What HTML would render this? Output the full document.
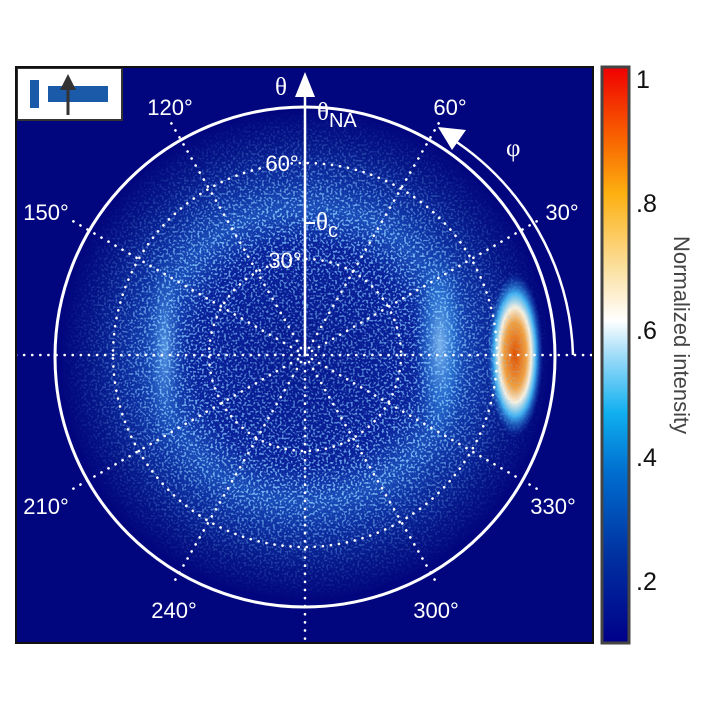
<!DOCTYPE html>
<html><head><meta charset="utf-8"><style>
body{margin:0;background:#fff;width:712px;height:712px;overflow:hidden}
svg{display:block;font-family:"Liberation Sans",sans-serif}
</style></head><body>
<svg width="712" height="712" viewBox="0 0 712 712">
<defs>
<clipPath id="fr"><rect x="16" y="67" width="577" height="576"/></clipPath>
<radialGradient id="disk" cx="305" cy="355" r="245" gradientUnits="userSpaceOnUse">
<stop offset="0" stop-color="#06188e"/>
<stop offset="0.45" stop-color="#08209a"/>
<stop offset="0.6" stop-color="#1a4cb8"/>
<stop offset="0.72" stop-color="#0c2ea0"/>
<stop offset="0.88" stop-color="#041486"/>
<stop offset="1" stop-color="#02067e"/>
</radialGradient>
<radialGradient id="spot" cx="0.5" cy="0.5" r="0.5">
<stop offset="0" stop-color="#e05000"/>
<stop offset="0.4" stop-color="#f0a040"/>
<stop offset="0.58" stop-color="#f8f0e0"/>
<stop offset="0.75" stop-color="#40b0f0"/>
<stop offset="1" stop-color="#1050c0" stop-opacity="0"/>
</radialGradient>
<radialGradient id="rr" cx="0.5" cy="0.5" r="0.5">
<stop offset="0" stop-color="#a0d8ff" stop-opacity="0.75"/>
<stop offset="0.5" stop-color="#40a0f0" stop-opacity="0.4"/>
<stop offset="1" stop-color="#1050c0" stop-opacity="0"/>
</radialGradient>
<radialGradient id="rl" cx="0.5" cy="0.5" r="0.5">
<stop offset="0" stop-color="#80c8ff" stop-opacity="0.6"/>
<stop offset="1" stop-color="#1050c0" stop-opacity="0"/>
</radialGradient>
<filter id="spk" x="0" y="0" width="100%" height="100%">
<feTurbulence type="fractalNoise" baseFrequency="0.45" numOctaves="1" seed="3"/>
<feColorMatrix type="matrix" values="0 0 0 0 0.25  0 0 0 0 0.6  0 0 0 0 1  0 0 0 7 -3.6"/>
</filter>
<mask id="dm"><circle cx="305" cy="355" r="245" fill="url(#dmg)"/></mask>
<radialGradient id="dmg" cx="305" cy="355" r="245" gradientUnits="userSpaceOnUse">
<stop offset="0" stop-color="#777"/><stop offset="0.6" stop-color="#fff"/><stop offset="0.82" stop-color="#555"/><stop offset="1" stop-color="#000"/>
</radialGradient>
<linearGradient id="cb" x1="0" y1="1" x2="0" y2="0">
<stop offset="0" stop-color="#00008a"/>
<stop offset="0.15" stop-color="#0030a0"/>
<stop offset="0.3" stop-color="#0070d0"/>
<stop offset="0.4" stop-color="#10b0f0"/>
<stop offset="0.5" stop-color="#a0dcf8"/>
<stop offset="0.56" stop-color="#ffffff"/>
<stop offset="0.65" stop-color="#fbe0a0"/>
<stop offset="0.78" stop-color="#fdb010"/>
<stop offset="0.88" stop-color="#f86000"/>
<stop offset="1" stop-color="#f00000"/>
</linearGradient>
</defs>
<g clip-path="url(#fr)">
<rect x="16" y="67" width="577" height="576" fill="#02067e"/>
<circle cx="305" cy="355" r="245" fill="url(#disk)"/>
<ellipse cx="165" cy="350" rx="20" ry="100" fill="url(#rl)"/>
<ellipse cx="440" cy="345" rx="28" ry="105" fill="url(#rr)"/>
<ellipse cx="515" cy="355" rx="28" ry="82" fill="url(#spot)"/>
<rect x="16" y="67" width="577" height="576" filter="url(#spk)" mask="url(#dm)" opacity="0.85"/>
<g fill="none" stroke="#fff" stroke-width="2.6" stroke-dasharray="0.1 8" stroke-linecap="round">
<circle cx="305" cy="355" r="96"/>
<circle cx="305" cy="355" r="192"/>
<line x1="16" y1="355" x2="593" y2="355"/>
<line x1="305" y1="355" x2="305" y2="643"/>
<line x1="305" y1="355" x2="440" y2="121"/>
<line x1="305" y1="355" x2="170" y2="121"/>
<line x1="305" y1="355" x2="539" y2="220"/>
<line x1="305" y1="355" x2="71" y2="220"/>
<line x1="305" y1="355" x2="539" y2="490"/>
<line x1="305" y1="355" x2="71" y2="490"/>
<line x1="305" y1="355" x2="436" y2="582"/>
<line x1="305" y1="355" x2="174" y2="582"/>
</g>
<circle cx="305" cy="357" r="250" fill="none" stroke="#fff" stroke-width="3"/>
<path d="M 449 137 A 268 268 0 0 1 573 355" fill="none" stroke="#fff" stroke-width="2.5"/>
<polygon points="438,127 466,130 452,150" fill="#fff"/>
<line x1="305" y1="355" x2="305" y2="90" stroke="#fff" stroke-width="2.5"/>
<polygon points="295,97 315,97 305,72" fill="#fff"/>
<line x1="305" y1="223" x2="315" y2="223" stroke="#fff" stroke-width="2"/>
<g fill="#fff" font-size="22">
<text x="170" y="115" text-anchor="middle">120°</text>
<text x="46" y="220" text-anchor="middle">150°</text>
<text x="450" y="115" text-anchor="middle">60°</text>
<text x="562" y="220" text-anchor="middle">30°</text>
<text x="46" y="514" text-anchor="middle">210°</text>
<text x="553" y="514" text-anchor="middle">330°</text>
<text x="174" y="618" text-anchor="middle">240°</text>
<text x="436" y="618" text-anchor="middle">300°</text>
<text x="282" y="171" text-anchor="middle">60°</text>
<text x="285" y="268" text-anchor="middle">30°</text>
<text x="275" y="95" font-family="Liberation Serif" font-size="25">θ</text>
<text x="317" y="120" font-family="Liberation Serif" font-size="25">θ<tspan font-family="Liberation Sans" font-size="20" dy="7">NA</tspan></text>
<text x="316" y="230" font-family="Liberation Serif" font-size="25">θ<tspan font-family="Liberation Sans" font-size="20" dy="7">c</tspan></text>
<text x="506" y="156" font-family="Liberation Serif" font-size="25">φ</text>
</g>
<rect x="17" y="68" width="105" height="52" fill="#fff" stroke="#333" stroke-width="2"/>
<rect x="30" y="80" width="9" height="28" fill="#1a5aa8"/>
<rect x="48" y="86" width="60" height="16" fill="#1a5aa8"/>
<line x1="68" y1="115" x2="68" y2="88" stroke="#333" stroke-width="3"/>
<polygon points="60,90 76,90 68,74" fill="#333"/>
</g>
<rect x="16" y="67" width="577" height="576" fill="none" stroke="#111" stroke-width="2"/>
<rect x="602" y="67" width="27" height="576" fill="url(#cb)" stroke="#444" stroke-width="3"/>
<g font-size="25" fill="#111">
<text x="636" y="88">1</text>
<text x="636" y="212">.8</text>
<text x="636" y="339">.6</text>
<text x="636" y="466">.4</text>
<text x="636" y="590">.2</text>
</g>
<text transform="translate(674,236) rotate(90)" font-size="22" fill="#444">Normalized intensity</text>
</svg>
</body></html>
